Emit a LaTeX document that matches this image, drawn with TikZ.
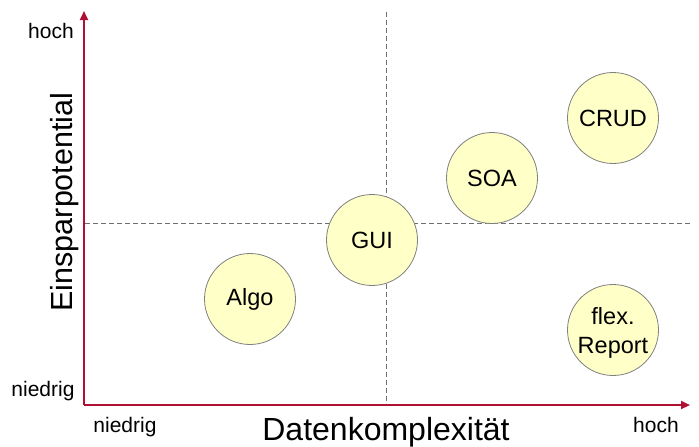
\documentclass[tikz,border=0pt]{standalone}
\usepackage{fontspec}
\setmainfont{Liberation Sans}
\usetikzlibrary{arrows.meta}
\definecolor{axisred}{RGB}{176,16,52}
\definecolor{bubblefill}{RGB}{255,255,200}
\definecolor{bubbleline}{RGB}{128,128,128}
\definecolor{guideline}{RGB}{110,110,110}
\tikzset{
  axis/.style={draw=axisred, line width=2.2pt, -{Triangle[length=9pt,width=8pt]}},
  guide/.style={draw=guideline, line width=0.9pt, dash pattern=on 5pt off 3pt},
  bubble/.style={circle, draw=bubbleline, line width=0.8pt, fill=bubblefill,
    minimum size=91pt, inner sep=0pt, align=center,
    font=\fontsize{23.5}{29}\selectfont},
  bubbletext/.style={inner sep=0pt, align=center, font=\fontsize{23.5}{29}\selectfont},
  ticklabel/.style={inner sep=0pt, anchor=base, font=\fontsize{21}{25}\selectfont},
  axislabel/.style={inner sep=0pt, anchor=base, font=\fontsize{32}{38}\selectfont}
}
\begin{document}
\begin{tikzpicture}[x=1pt,y=-1pt]
  \useasboundingbox (0,0) rectangle (699,447);
  % quadrant guides
  \coordinate (vtop) at (386,12);
  \coordinate (vbot) at (386,405);
  \coordinate (hleft) at (85,223);
  \coordinate (hright) at (690,223);
  \draw[guide] (vtop) -- (vbot);
  \draw[guide] (hleft) -- (hright);
  % axes
  \coordinate (origin) at (84,405);
  \coordinate (ytip) at (84,11);
  \coordinate (xtip) at (690,405);
  \draw[axis] (origin) -- (ytip);
  \draw[axis] (origin) -- (xtip);
  % bubbles
  \node[bubble] (algo) at (250,299) {Algo};
  \node[bubble] (gui) at (372,240) {GUI};
  \node[bubble] (soa) at (492,178) {SOA};
  \node[bubble] (crud) at (613,118) {CRUD};
  \node[bubble] (report) at (613,330) {};
  \node[bubbletext, yshift=-3pt] (reporttext) at (report.center) {flex.\\Report};
  % scale labels
  \node[ticklabel] (yhigh) at (51,38) {hoch};
  \node[ticklabel] (ylow) at (43,396) {niedrig};
  \node[ticklabel] (xlow) at (125,432) {niedrig};
  \node[ticklabel] (xhigh) at (656,432) {hoch};
  % axis titles
  \node[axislabel] (xtitle) at (386,440) {Datenkomplexität};
  \node[axislabel, rotate=90, font=\fontsize{30.5}{36}\selectfont] (ytitle) at (72,202) {Einsparpotential};
\end{tikzpicture}
\end{document}
